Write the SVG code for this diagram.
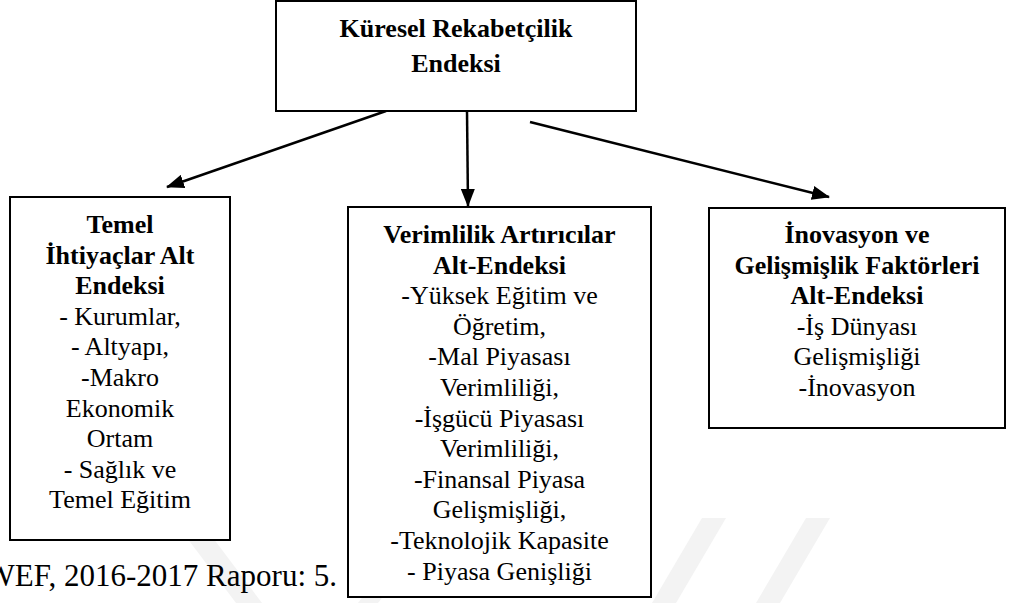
<svg xmlns="http://www.w3.org/2000/svg" width="1011" height="603" viewBox="0 0 1011 603">
  <style>
    .box { fill: #ffffff; stroke: #000000; stroke-width: 2; }
    .t { font-size: 26px; fill: #000000; text-anchor: middle; }
    .b { font-weight: bold; }
    .edge { stroke: #000000; stroke-width: 2.5; fill: none; }
    .wm { fill: #f3f3f3; }
  </style>
  <defs>
    <marker id="arrow" viewBox="0 0 18 14" refX="17" refY="7" markerWidth="18" markerHeight="14" markerUnits="userSpaceOnUse" orient="auto">
      <path d="M0,0 L18,7 L0,14 Z" fill="#000000"/>
    </marker>
  </defs>

  <rect width="1011" height="603" fill="#ffffff"/>

  <!-- faint background emblem -->
  <g id="watermark">
    <polygon class="wm" points="172,518 198,518 262,603 236,603"/>
    <polygon class="wm" points="394,556 414,556 378,603 358,603"/>
    <polygon class="wm" points="702,518 726,518 676,603 652,603"/>
    <polygon class="wm" points="806,518 830,518 780,603 756,603"/>
  </g>

  <!-- connectors -->
  <g id="connectors">
    <line class="edge" x1="386" y1="111" x2="167" y2="187" marker-end="url(#arrow)"/>
    <line class="edge" x1="467" y1="111" x2="468" y2="206" marker-end="url(#arrow)"/>
    <line class="edge" x1="530" y1="122" x2="829" y2="197" marker-end="url(#arrow)"/>
  </g>

  <g font-family="'Liberation Serif', Tinos, 'Times New Roman', Times, serif">
    <!-- root node -->
    <g id="node-kuresel">
      <rect class="box" x="276" y="1" width="360" height="110"/>
      <text class="t b" x="456" y="37">Küresel Rekabetçilik</text>
      <text class="t b" x="456" y="72">Endeksi</text>
    </g>

    <!-- left sub-index -->
    <g id="node-temel">
      <rect class="box" x="10" y="197" width="220" height="343"/>
      <text class="t b" x="120" y="233">Temel</text>
      <text class="t b" x="120" y="263.6">İhtiyaçlar Alt</text>
      <text class="t b" x="120" y="294.2">Endeksi</text>
      <text class="t" x="120" y="324.8">- Kurumlar,</text>
      <text class="t" x="120" y="355.4">- Altyapı,</text>
      <text class="t" x="120" y="386">-Makro</text>
      <text class="t" x="120" y="416.6">Ekonomik</text>
      <text class="t" x="120" y="447.2">Ortam</text>
      <text class="t" x="120" y="477.8">- Sağlık ve</text>
      <text class="t" x="120" y="508.4">Temel Eğitim</text>
    </g>

    <!-- middle sub-index -->
    <g id="node-verimlilik">
      <rect class="box" x="348" y="207" width="303" height="390"/>
      <text class="t b" x="499.5" y="243">Verimlilik Artırıcılar</text>
      <text class="t b" x="499.5" y="273.6">Alt-Endeksi</text>
      <text class="t" x="499.5" y="304.2">-Yüksek Eğitim ve</text>
      <text class="t" x="499.5" y="334.8">Öğretim,</text>
      <text class="t" x="499.5" y="365.4">-Mal Piyasası</text>
      <text class="t" x="499.5" y="396">Verimliliği,</text>
      <text class="t" x="499.5" y="426.6">-İşgücü Piyasası</text>
      <text class="t" x="499.5" y="457.2">Verimliliği,</text>
      <text class="t" x="499.5" y="487.8">-Finansal Piyasa</text>
      <text class="t" x="499.5" y="518.4">Gelişmişliği,</text>
      <text class="t" x="499.5" y="549">-Teknolojik Kapasite</text>
      <text class="t" x="499.5" y="579.6">- Piyasa Genişliği</text>
    </g>

    <!-- right sub-index -->
    <g id="node-inovasyon">
      <rect class="box" x="709" y="208" width="296" height="220"/>
      <text class="t b" x="857" y="243">İnovasyon ve</text>
      <text class="t b" x="857" y="273.6">Gelişmişlik Faktörleri</text>
      <text class="t b" x="857" y="304.2">Alt-Endeksi</text>
      <text class="t" x="857" y="334.8">-İş Dünyası</text>
      <text class="t" x="857" y="365.4">Gelişmişliği</text>
      <text class="t" x="857" y="396">-İnovasyon</text>
    </g>

    <!-- source line -->
    <text x="337" y="586" font-size="31" text-anchor="end" fill="#000000">WEF, 2016-2017 Raporu: 5.</text>
  </g>
</svg>
